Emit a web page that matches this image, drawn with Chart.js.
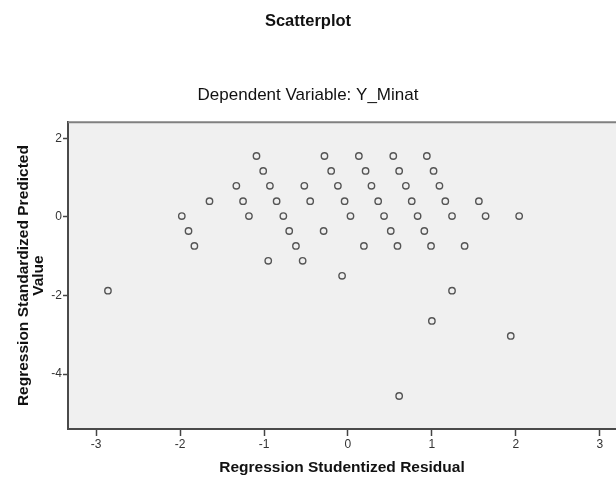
<!DOCTYPE html>
<html>
<head>
<meta charset="utf-8">
<title>Scatterplot</title>
<script src="https://cdn.jsdelivr.net/npm/chart.js@4"></script>
<style>
  body { margin: 0; background: #fff; }
  canvas { display: block; }
</style>
</head>
<body>
<canvas id="chart" width="616" height="477"></canvas>
<script>
// values (studentized residual, standardized predicted value)
const residX = [
  -1.09, -0.28, 0.13, 0.54, 0.94,
  -1.01, -0.20, 0.21, 0.61, 1.02,
  -1.33, -0.93, -0.52, -0.12, 0.28, 0.69, 1.09,
  -1.65, -1.25, -0.85, -0.45, -0.04, 0.36, 0.76, 1.16, 1.56,
  -1.98, -1.18, -0.77, 0.03, 0.43, 0.83, 1.24, 1.64, 2.04,
  -1.90, -0.70, -0.29, 0.51, 0.91,
  -1.83, -0.62, 0.19, 0.59, 0.99, 1.39,
  -0.95, -0.54,
  -0.07,
  -2.86, 1.24,
  1.00,
  1.94,
  0.61
];
const predY = [
  1.55, 1.55, 1.55, 1.55, 1.55,
  1.17, 1.17, 1.17, 1.17, 1.17,
  0.79, 0.79, 0.79, 0.79, 0.79, 0.79, 0.79,
  0.40, 0.40, 0.40, 0.40, 0.40, 0.40, 0.40, 0.40, 0.40,
  0.02, 0.02, 0.02, 0.02, 0.02, 0.02, 0.02, 0.02, 0.02,
  -0.36, -0.36, -0.36, -0.36, -0.36,
  -0.74, -0.74, -0.74, -0.74, -0.74, -0.74,
  -1.12, -1.12,
  -1.50,
  -1.88, -1.88,
  -2.65,
  -3.03,
  -4.56
];
const xTicks = [-3, -2, -1, 0, 1, 2, 3];
const yTicks = [2, 0, -2, -4];

const FONT = "'Liberation Sans', Arial, sans-serif";

let points = residX.map((x, i) => ({ x: x, y: predY[i] }));

// grey plot background and the top frame line
const frame = {
  id: 'frame',
  beforeDraw(chart) {
    let a = chart.chartArea;
    let ctx = chart.ctx;
    ctx.save();
    ctx.fillStyle = '#f0f0f0';
    ctx.fillRect(a.left, a.top, a.right - a.left, a.bottom - a.top);
    ctx.restore();
  },
  afterDraw(chart) {
    let a = chart.chartArea;
    let ctx = chart.ctx;
    ctx.save();
    ctx.strokeStyle = '#808080';
    ctx.lineWidth = 2;
    ctx.beginPath();
    ctx.moveTo(a.left, a.top);
    ctx.lineTo(a.right, a.top);
    ctx.stroke();
    ctx.restore();
  }
};

new Chart(document.getElementById('chart'), {
  type: 'scatter',
  data: {
    datasets: [{
      data: points,
      pointRadius: 3.2,
      pointHoverRadius: 3.2,
      borderWidth: 1.4,
      borderColor: '#555',
      backgroundColor: 'rgba(0,0,0,0)'
    }]
  },
  options: {
    responsive: false,
    animation: false,
    devicePixelRatio: 1,
    layout: { padding: 0, autoPadding: false },
    plugins: {
      legend: { display: false },
      tooltip: { enabled: false },
      title: {
        display: true,
        text: 'Scatterplot',
        color: '#111',
        font: { family: FONT, size: 16.5, weight: 'bold' },
        padding: { top: 12, bottom: 53 }
      },
      subtitle: {
        display: true,
        text: 'Dependent Variable: Y_Minat',
        color: '#111',
        font: { family: FONT, size: 17 },
        padding: { top: 0, bottom: 17 }
      }
    },
    scales: {
      x: {
        type: 'linear',
        min: -3.336,
        max: 3.194,
        afterBuildTicks: s => { s.ticks = xTicks.map(v => ({ value: v })); },
        afterFit: s => { s.height = 48; s.paddingLeft = 0; s.paddingRight = 0; },
        ticks: { color: '#333', font: { family: FONT, size: 12 }, padding: 1 },
        grid: { drawOnChartArea: false, tickLength: 7, tickWidth: 1.5, tickColor: '#444' },
        border: { display: true, color: '#4a4a4a', width: 2 },
        title: {
          display: true,
          text: 'Regression Studentized Residual',
          color: '#111',
          font: { family: FONT, size: 15.5, weight: 'bold' },
          padding: { top: 0, bottom: 0 }
        }
      },
      y: {
        type: 'linear',
        min: -5.40,
        max: 2.41,
        afterBuildTicks: s => { s.ticks = yTicks.map(v => ({ value: v })); },
        afterFit: s => { s.width = 68; },
        ticks: { color: '#333', font: { family: FONT, size: 12 }, padding: 1 },
        grid: { drawOnChartArea: false, tickLength: 5, tickWidth: 1.5, tickColor: '#444' },
        border: { display: true, color: '#4a4a4a', width: 2 },
        title: {
          display: true,
          text: ['Regression Standardized Predicted', 'Value'],
          color: '#111',
          font: { family: FONT, size: 15.5, weight: 'bold', lineHeight: 0.93 },
          padding: { top: 17, bottom: 0 }
        }
      }
    }
  },
  plugins: [frame]
});
</script>
</body>
</html>
